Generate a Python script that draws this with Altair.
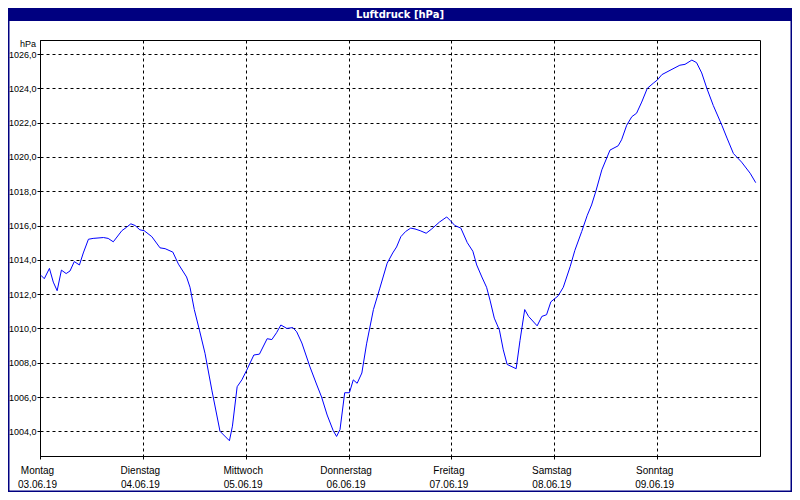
import altair as alt
import pandas as pd
import json

# hours since Monday 03.06.19 00:00
hours = [0.2, 1.0, 2.2, 3.1, 4.0, 5.0, 6.1, 7.0, 8.0, 9.2, 10.1, 11.3, 12.4, 14.8, 15.9, 17.1,
         19.1, 20.2, 21.2, 22.2, 23.3, 24.3, 26.1, 28.0, 29.2, 31.0, 32.3, 34.2, 35.0, 36.0,
         37.2, 38.5, 40.1, 42.0, 44.2, 44.9, 46.0, 47.1, 48.2, 49.9, 51.2, 53.0, 54.1, 55.2,
         56.2, 57.6, 59.0, 59.9, 61.1, 63.0, 64.6, 65.7, 67.0, 68.4, 69.2, 70.0, 71.1, 72.2,
         73.1, 74.0, 75.1, 76.2, 77.8, 79.3, 81.0, 82.3, 83.2, 84.2, 85.3, 86.5, 87.5, 88.7,
         90.1, 91.4, 93.2, 94.9, 95.7, 96.8, 98.2, 99.7, 101.0, 101.9, 103.1, 104.2, 105.0,
         106.0, 107.2, 108.1, 109.0, 111.1, 112.0, 113.1, 114.0, 116.0, 117.1, 118.2, 119.2,
         120.9, 122.1, 123.7, 124.8, 126.4, 127.7, 128.7, 129.7, 131.1, 133.0, 134.9, 135.7,
         136.9, 138.1, 139.2, 140.4, 141.7, 143.1, 144.1, 145.1, 147.0, 149.3, 150.5, 152.1,
         153.2, 154.4, 155.6, 157.1, 159.1, 160.3, 161.8, 163.7, 165.7, 167.0]

pressure = [1013.1, 1012.9, 1013.5, 1012.7, 1012.2, 1013.4, 1013.2, 1013.35, 1013.9, 1013.7,
            1014.4, 1015.2, 1015.25, 1015.3, 1015.25, 1015.05, 1015.7, 1015.9, 1016.1, 1016.0,
            1015.75, 1015.7, 1015.35, 1014.7, 1014.65, 1014.45, 1013.75, 1013.0, 1012.4, 1011.1,
            1009.9, 1008.55, 1006.4, 1004.0, 1003.45, 1004.3, 1006.6, 1007.0, 1007.55, 1008.45,
            1008.5, 1009.4, 1009.35, 1009.75, 1010.2, 1010.0, 1010.05, 1009.8, 1009.15, 1007.75,
            1006.7, 1006.0, 1004.95, 1004.05, 1003.7, 1004.1, 1006.25, 1006.25, 1007.0, 1006.8,
            1007.4, 1009.1, 1011.1, 1012.35, 1013.8, 1014.4, 1014.75, 1015.35, 1015.65, 1015.85,
            1015.8, 1015.7, 1015.55, 1015.8, 1016.2, 1016.5, 1016.3, 1016.0, 1015.85, 1015.0,
            1014.5, 1013.7, 1013.0, 1012.4, 1011.65, 1010.6, 1009.9, 1008.75, 1007.9, 1007.65,
            1009.3, 1011.1, 1010.7, 1010.15, 1010.7, 1010.8, 1011.55, 1011.9, 1012.4, 1013.6,
            1014.55, 1015.65, 1016.6, 1017.2, 1018.0, 1019.25, 1020.4, 1020.65, 1021.0, 1021.85,
            1022.35, 1022.55, 1023.2, 1024.0, 1024.3, 1024.5, 1024.8, 1025.05, 1025.35, 1025.4,
            1025.65, 1025.5, 1024.9, 1024.0, 1023.0, 1021.85, 1021.1, 1020.2, 1019.7, 1019.05,
            1018.5]

day_names = ["Montag", "Dienstag", "Mittwoch", "Donnerstag", "Freitag", "Samstag", "Sonntag"]
day_dates = ["03.06.19", "04.06.19", "05.06.19", "06.06.19", "07.06.19", "08.06.19", "09.06.19"]
day_ticks = [0, 24, 48, 72, 96, 120, 144]
y_ticks = [1004, 1006, 1008, 1010, 1012, 1014, 1016, 1018, 1020, 1022, 1024, 1026]

title_text = "Luftdruck [hPa]"
unit_text = "hPa"

df = pd.DataFrame({"h": hours, "p": pressure})

FONT = "Liberation Sans"
NAVY = "#000080"
W, H = 720, 416
PL, PT, PR, PB = 32, 32, 32, 36

label_expr = "[{n}[round(datum.value/24)], {d}[round(datum.value/24)]]".format(
    n=json.dumps(day_names).replace('"', "'"), d=json.dumps(day_dates).replace('"', "'"))

line = alt.Chart(df).mark_line(color="#0000ff", strokeWidth=1).encode(
    x=alt.X("h:Q",
            scale=alt.Scale(domain=[0, 168], nice=False, zero=False),
            axis=alt.Axis(values=day_ticks, title=None, labelExpr=label_expr,
                          grid=True, gridColor="black", gridDash=[3, 3], gridOpacity=1,
                          gridWidth=1, tickSize=5, tickColor="black", tickDash=[3, 3],
                          domainColor="black", labelFont=FONT, labelFontSize=10,
                          labelColor="black", labelBaseline="top", labelLineHeight=14,
                          labelPadding=4, labelOffset=-3, labelFlush=False)),
    y=alt.Y("p:Q",
            scale=alt.Scale(domain=[1002.56, 1026.82], nice=False, zero=False),
            axis=alt.Axis(values=y_ticks, title=None,
                          labelExpr="replace(format(datum.value, '.1f'), '.', ',')",
                          grid=True, gridColor="black", gridDash=[3, 3], gridOpacity=1,
                          gridWidth=1, tickSize=3, tickColor="black", tickDash=[3, 3],
                          domainColor="black", labelFont=FONT, labelFontSize=9,
                          labelColor="black", labelPadding=1)),
)

one = pd.DataFrame({"t": [title_text]})

bar = alt.Chart(one).mark_rect(color=NAVY).encode(
    x=alt.value(-PL), x2=alt.value(W + PR), y=alt.value(-PT), y2=alt.value(-19))

title = alt.Chart(one).mark_text(color="white", font="DejaVu Sans", fontSize=10,
                                 fontWeight="bold", baseline="middle", align="center").encode(
    x=alt.value(W / 2), y=alt.value(-25.5), text="t:N")

frame = alt.Chart(one).mark_rect(fill=None, stroke=NAVY, strokeWidth=1.5).encode(
    x=alt.value(-PL + 0.75), x2=alt.value(W + PR - 0.75),
    y=alt.value(-PT + 0.75), y2=alt.value(H + PB - 0.75))

unit = alt.Chart(pd.DataFrame({"t": [unit_text]})).mark_text(
    color="black", font=FONT, fontSize=9, baseline="middle", align="right").encode(
    x=alt.value(-4), y=alt.value(4), text="t:N")

chart = alt.layer(line, bar, title, frame, unit).properties(
    width=W, height=H,
    autosize=alt.AutoSizeParams(type="none"),
    padding={"left": PL, "top": PT, "right": PR, "bottom": PB},
    background="white",
).configure_view(stroke="black", strokeWidth=1)

chart.save("out.html", embed_options={"renderer": "svg", "actions": False})
